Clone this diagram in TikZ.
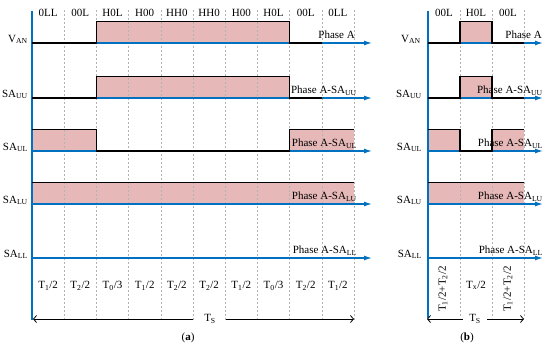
\documentclass[tikz,border=0pt]{standalone}
\usepackage{fontspec}
\setmainfont{Liberation Serif}
\usetikzlibrary{arrows.meta}
\definecolor{pulsefill}{RGB}{230,184,183}
\definecolor{axisblue}{RGB}{0,112,192}
\newcommand\lsb[1]{\textsubscript{#1}}
\begin{document}
\begin{tikzpicture}[x=1pt,y=-1pt,
  lbl/.style={font=\fontsize{11}{13}\selectfont, inner sep=0pt},
  sig/.style={black, line width=1.3pt, line join=miter},
  gridline/.style={black!30, dash pattern=on 2pt off 2pt, line width=0.4pt},
  baxis/.style={axisblue, line width=1.4pt},
  barrow/.style={axisblue, line width=1.3pt, -{Latex[length=8pt,width=5pt]}},
  tsline/.style={black, line width=0.8pt},
  tstip/.tip={Straight Barb[length=3pt,width=7pt]},
]
\useasboundingbox (0,0) rectangle (550,349);

% ---------------- panel (a) ----------------
% pulse fills
\fill[pulsefill] (96.4,21.5) rectangle (289.6,43);
\fill[pulsefill] (96.4,76.5) rectangle (289.6,98);
\fill[pulsefill] (32,129.5) rectangle (96.4,151);
\fill[pulsefill] (289.6,129.5) rectangle (354,151);
\fill[pulsefill] (32,182.5) rectangle (354,204);
% grid
\foreach \i in {1,...,10} {
  \coordinate (ag\i t) at ({32+32.2*\i},10);
  \coordinate (ag\i b) at ({32+32.2*\i},320);
  \draw[gridline] (ag\i t) -- (ag\i b);
}
% horizontal axes
\foreach \y/\n in {43/1,98/2,151/3,204/4,258/5} {
  \coordinate (aS\n) at (32,\y);
  \coordinate (aE\n) at (372,\y);
  \draw[barrow] (aS\n) -- (aE\n);
}
% vertical axis
\coordinate (aTop) at (32,10.5);
\coordinate (aBot) at (32,320);
\draw[baxis] (aTop) -- (aBot);
% signals
\draw[sig] (32,43) -- (96.4,43) -- (96.4,21.5) -- (289.6,21.5) -- (289.6,43) -- (321.8,43);
\draw[sig] (32,98) -- (96.4,98) -- (96.4,76.5) -- (289.6,76.5) -- (289.6,98) -- (321.8,98);
\draw[sig] (32,129.5) -- (96.4,129.5) -- (96.4,151) -- (289.6,151) -- (289.6,129.5) -- (354,129.5);
\draw[sig] (32,182.5) -- (354,182.5);
% left labels
\node[lbl, anchor=base east] (aL1) at (28,42) {V\lsb{AN}};
\node[lbl, anchor=base east] (aL2) at (28,97) {SA\lsb{UU}};
\node[lbl, anchor=base east] (aL3) at (28,150) {SA\lsb{UL}};
\node[lbl, anchor=base east] (aL4) at (28,203) {SA\lsb{LU}};
\node[lbl, anchor=base east] (aL5) at (28,257) {SA\lsb{LL}};
% phase labels
\node[lbl, anchor=base east] (aP1) at (355,38.5) {Phase A};
\node[lbl, anchor=base east] (aP2) at (357,93.5) {Phase A-SA\lsb{UU}};
\node[lbl, anchor=base east] (aP3) at (357,146.5) {Phase A-SA\lsb{UL}};
\node[lbl, anchor=base east] (aP4) at (357,199.5) {Phase A-SA\lsb{LU}};
\node[lbl, anchor=base east] (aP5) at (357,253.5) {Phase A-SA\lsb{LL}};
% top state labels
\foreach \s [count=\i] in {0LL,00L,H0L,H00,HH0,HH0,H00,H0L,00L,0LL} {
  \node[lbl, anchor=base] (aT\i) at ({32+32.2*(\i-0.5)},16.5) {\s};
}
% bottom time labels
\foreach \s [count=\i] in {T\lsb{1}/2,T\lsb{2}/2,T\lsb{0}/3,T\lsb{1}/2,T\lsb{2}/2,T\lsb{2}/2,T\lsb{1}/2,T\lsb{0}/3,T\lsb{2}/2,T\lsb{1}/2} {
  \node[lbl, anchor=base] (aB\i) at ({32+32.2*(\i-0.5)},288.5) {\s};
}
% Ts arrow
\coordinate (aTsL) at (33,319);
\coordinate (aTsA) at (193,319);
\node[lbl] (aTs) at (210,319) {T\lsb{S}};
\coordinate (aTsB) at (226,319);
\coordinate (aTsR) at (354,319);
\draw[tsline, tstip-] (aTsL) -- (aTsA);
\draw[tsline, -tstip] (aTsB) -- (aTsR);
\node[lbl] (acap) at (188,338) {(\textbf{a})};

% ---------------- panel (b) ----------------
\fill[pulsefill] (460,21.5) rectangle (492,43);
\fill[pulsefill] (460,76.5) rectangle (492,98);
\fill[pulsefill] (428,129.5) rectangle (460,151);
\fill[pulsefill] (492,129.5) rectangle (524,151);
\fill[pulsefill] (428,182.5) rectangle (524,204);
\foreach \xx [count=\i] in {460,492,524} {
  \coordinate (bg\i t) at (\xx,10);
  \coordinate (bg\i b) at (\xx,318);
  \draw[gridline] (bg\i t) -- (bg\i b);
}
\foreach \y/\n in {43/1,98/2,151/3,204/4,258/5} {
  \coordinate (bS\n) at (428,\y);
  \coordinate (bE\n) at (543,\y);
  \draw[barrow] (bS\n) -- (bE\n);
}
\coordinate (bTop) at (428,10.5);
\coordinate (bBot) at (428,318);
\draw[baxis] (bTop) -- (bBot);
\draw[sig] (428,43) -- (460,43) -- (460,21.5) -- (492,21.5) -- (492,43) -- (524,43);
\draw[sig] (428,98) -- (460,98) -- (460,76.5) -- (492,76.5) -- (492,98) -- (524,98);
\draw[sig] (428,129.5) -- (460,129.5) -- (460,151) -- (492,151) -- (492,129.5) -- (524,129.5);
\draw[sig] (428,182.5) -- (524,182.5);
\node[lbl, anchor=base east] (bL1) at (421,42) {V\lsb{AN}};
\node[lbl, anchor=base east] (bL2) at (422,97) {SA\lsb{UU}};
\node[lbl, anchor=base east] (bL3) at (422,150) {SA\lsb{UL}};
\node[lbl, anchor=base east] (bL4) at (422,203) {SA\lsb{LU}};
\node[lbl, anchor=base east] (bL5) at (422,257) {SA\lsb{LL}};
\node[lbl, anchor=base east] (bP1) at (542,38.5) {Phase A};
\node[lbl, anchor=base east] (bP2) at (543,93.5) {Phase A-SA\lsb{UU}};
\node[lbl, anchor=base east] (bP3) at (543,146.5) {Phase A-SA\lsb{UL}};
\node[lbl, anchor=base east] (bP4) at (543,199.5) {Phase A-SA\lsb{LU}};
\node[lbl, anchor=base east] (bP5) at (543,253.5) {Phase A-SA\lsb{LL}};
\node[lbl, anchor=base] (bT1) at (444,16.5) {00L};
\node[lbl, anchor=base] (bT2) at (476,16.5) {H0L};
\node[lbl, anchor=base] (bT3) at (508,16.5) {00L};
\node[lbl, rotate=90] (bB1) at (443,289) {T\lsb{1}/2+T\lsb{2}/2};
\node[lbl, anchor=base] (bB2) at (476,288) {T\lsb{x}/2};
\node[lbl, rotate=90] (bB3) at (508,289) {T\lsb{1}/2+T\lsb{2}/2};
\coordinate (bTsL) at (427,319);
\coordinate (bTsA) at (463,319);
\node[lbl] (bTs) at (475,319) {T\lsb{S}};
\coordinate (bTsB) at (487,319);
\coordinate (bTsR) at (524,319);
\draw[tsline, tstip-] (bTsL) -- (bTsA);
\draw[tsline, -tstip] (bTsB) -- (bTsR);
\node[lbl] (bcap) at (467,338) {(\textbf{b})};
\end{tikzpicture}
\end{document}
